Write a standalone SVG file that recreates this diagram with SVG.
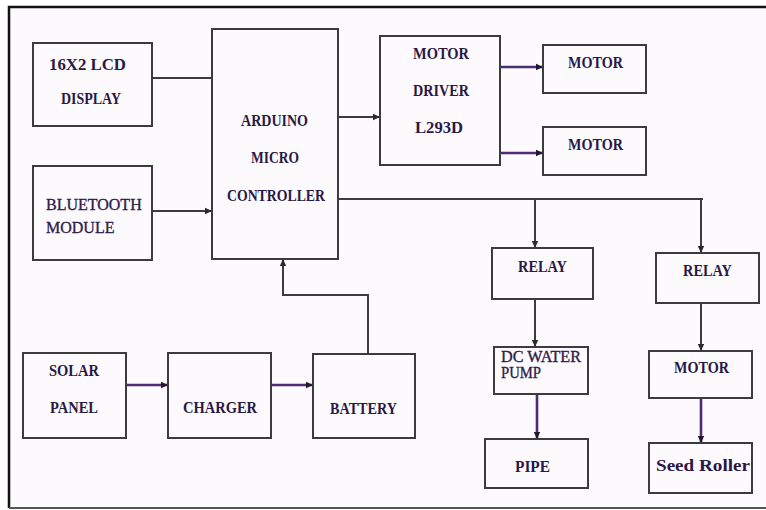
<svg xmlns="http://www.w3.org/2000/svg" width="766" height="510" viewBox="0 0 766 510">
<style>
.box{fill:none;stroke:#3c3c3c;stroke-width:2}
.ln{fill:none;stroke:#3c3c3c;stroke-width:2}
.pl{fill:none;stroke:#4e2c74;stroke-width:2.6}
.b{font-family:"Liberation Serif","Times New Roman",serif;font-weight:bold;font-size:16px;fill:#2a1845;text-anchor:middle}
.r{font-family:"Liberation Serif","Times New Roman",serif;font-size:16px;fill:#2e1d4a;stroke:#2e1d4a;stroke-width:0.35}
</style>
<defs>
<marker id="ag" markerUnits="userSpaceOnUse" markerWidth="8" markerHeight="8" refX="7" refY="4" orient="auto">
<path d="M0,0.8 L7,4 L0,7.2 Z" fill="#2a2a2a"/>
</marker>
<marker id="ap" markerUnits="userSpaceOnUse" markerWidth="8" markerHeight="8" refX="7" refY="4" orient="auto">
<path d="M0,0.8 L7,4 L0,7.2 Z" fill="#241530"/>
</marker>
</defs>
<rect x="0" y="0" width="766" height="510" fill="#ffffff"/>
<rect x="9" y="7" width="760" height="501" fill="#fdfafd"/>
<path d="M9,508 V7 H766" fill="none" stroke="#111" stroke-width="2.5"/>
<path d="M9,508 H766" fill="none" stroke="#555" stroke-width="2"/>

<g id="connectors">
<path class="ln" d="M152,78 H212"/>
<path class="ln" d="M152,211 H212" marker-end="url(#ag)"/>
<path class="ln" d="M338,117 H380" marker-end="url(#ag)"/>
<path class="pl" d="M500,67 H543" marker-end="url(#ap)"/>
<path class="pl" d="M500,153 H543" marker-end="url(#ap)"/>
<path class="ln" d="M338,199 H703"/>
<path class="ln" d="M535,199 V248" marker-end="url(#ag)"/>
<path class="ln" d="M701,199 V253" marker-end="url(#ag)"/>
<path class="ln" d="M535,299 V347" marker-end="url(#ag)"/>
<path class="pl" d="M537,394 V439" marker-end="url(#ap)"/>
<path class="ln" d="M701,303 V351" marker-end="url(#ag)"/>
<path class="pl" d="M701,398 V443" marker-end="url(#ap)"/>
<path class="pl" d="M126,385 H168" marker-end="url(#ap)"/>
<path class="pl" d="M271,385 H313" marker-end="url(#ap)"/>
<path class="ln" d="M368,354 V295 H283 V259" marker-end="url(#ag)"/>
</g>

<g id="lcd">
<rect class="box" x="33" y="43" width="119" height="83"/>
<text class="b" x="87.5" y="70" textLength="77" lengthAdjust="spacingAndGlyphs">16X2 LCD</text>
<text class="b" x="91" y="104" textLength="60" lengthAdjust="spacingAndGlyphs">DISPLAY</text>
</g>
<g id="bluetooth">
<rect class="box" x="33" y="166" width="119" height="94"/>
<text class="r" x="46" y="210">BLUETOOTH</text>
<text class="r" x="46" y="233">MODULE</text>
</g>
<g id="arduino">
<rect class="box" x="212" y="29" width="126" height="230"/>
<text class="b" x="274.5" y="126" textLength="67" lengthAdjust="spacingAndGlyphs">ARDUINO</text>
<text class="b" x="275" y="163" textLength="48" lengthAdjust="spacingAndGlyphs">MICRO</text>
<text class="b" x="276" y="201" textLength="98" lengthAdjust="spacingAndGlyphs">CONTROLLER</text>
</g>
<g id="motor-driver">
<rect class="box" x="380" y="36" width="120" height="129"/>
<text class="b" x="441" y="59" textLength="56" lengthAdjust="spacingAndGlyphs">MOTOR</text>
<text class="b" x="441" y="96" textLength="56" lengthAdjust="spacingAndGlyphs">DRIVER</text>
<text class="b" x="439" y="133" textLength="48" lengthAdjust="spacingAndGlyphs">L293D</text>
</g>
<g id="motor1">
<rect class="box" x="543" y="45" width="103" height="48"/>
<text class="b" x="595.5" y="68" textLength="55" lengthAdjust="spacingAndGlyphs">MOTOR</text>
</g>
<g id="motor2">
<rect class="box" x="543" y="127" width="103" height="48"/>
<text class="b" x="595.5" y="150" textLength="55" lengthAdjust="spacingAndGlyphs">MOTOR</text>
</g>
<g id="relay1">
<rect class="box" x="492" y="248" width="101" height="51"/>
<text class="b" x="542.5" y="272" textLength="49" lengthAdjust="spacingAndGlyphs">RELAY</text>
</g>
<g id="relay2">
<rect class="box" x="656" y="253" width="103" height="50"/>
<text class="b" x="707.5" y="276" textLength="49" lengthAdjust="spacingAndGlyphs">RELAY</text>
</g>
<g id="pump">
<rect class="box" x="494" y="347" width="94" height="47"/>
<text class="r" x="501" y="362" font-size="14.5" textLength="80" lengthAdjust="spacingAndGlyphs">DC WATER</text>
<text class="r" x="501" y="378" font-size="14.5" textLength="40" lengthAdjust="spacingAndGlyphs">PUMP</text>
</g>
<g id="pipe">
<rect class="box" x="485" y="439" width="103" height="49"/>
<text class="b" x="532.5" y="472" textLength="35" lengthAdjust="spacingAndGlyphs">PIPE</text>
</g>
<g id="motor3">
<rect class="box" x="649" y="351" width="103" height="47"/>
<text class="b" x="701.5" y="373" textLength="55" lengthAdjust="spacingAndGlyphs">MOTOR</text>
</g>
<g id="seed-roller">
<rect class="box" x="649" y="443" width="103" height="50"/>
<text class="b" x="703" y="471" textLength="94" lengthAdjust="spacingAndGlyphs">Seed Roller</text>
</g>
<g id="solar">
<rect class="box" x="23" y="353" width="103" height="85"/>
<text class="b" x="74" y="376" textLength="50" lengthAdjust="spacingAndGlyphs">SOLAR</text>
<text class="b" x="74" y="413" textLength="48" lengthAdjust="spacingAndGlyphs">PANEL</text>
</g>
<g id="charger">
<rect class="box" x="168" y="353" width="103" height="85"/>
<text class="b" x="220" y="413" textLength="74" lengthAdjust="spacingAndGlyphs">CHARGER</text>
</g>
<g id="battery">
<rect class="box" x="313" y="354" width="102" height="84"/>
<text class="b" x="363.5" y="414" textLength="67" lengthAdjust="spacingAndGlyphs">BATTERY</text>
</g>
</svg>
